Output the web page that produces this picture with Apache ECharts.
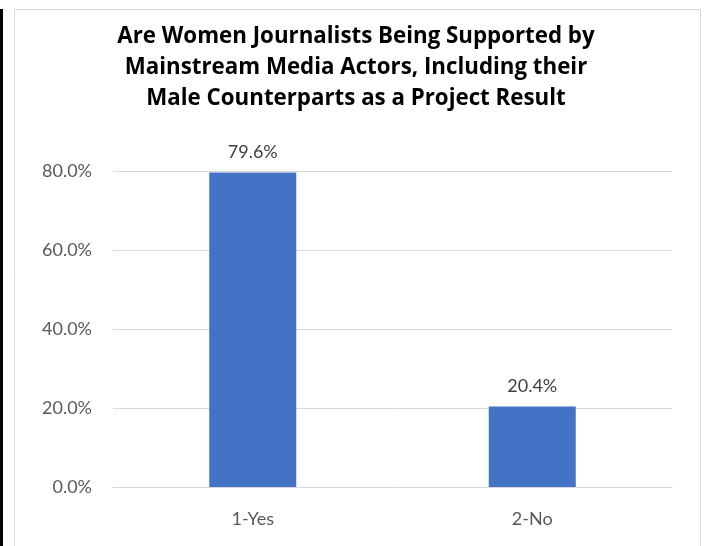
<!DOCTYPE html>
<html>
<head>
<meta charset="utf-8">
<script src="https://cdn.jsdelivr.net/npm/echarts@6/dist/echarts.min.js"></script>
<style>html,body{margin:0;padding:0;background:#fff}#c{width:712px;height:546px}</style>
</head>
<body>
<div id="c"></div>
<script>
const categories = ['1-Yes', '2-No'];
const values = [79.6, 20.4];
const titleText = 'Are Women Journalists Being Supported by\nMainstream Media Actors, Including their\nMale Counterparts as a Project Result';

const chart = echarts.init(document.getElementById('c'));
chart.setOption({
  animation: false,
  backgroundColor: '#fff',
  title: {
    text: titleText,
    left: 'center',
    top: 16,
    textStyle: { fontFamily: 'Open Sans', fontWeight: 'bold', fontSize: 22.3, lineHeight: 31, color: '#000' }
  },
  graphic: [
    { type: 'rect', shape: { x: 0, y: 9, width: 3, height: 537 }, style: { fill: '#000' }, silent: true },
    { type: 'rect', shape: { x: 14.5, y: 9.5, width: 686, height: 560 }, style: { fill: 'none', stroke: '#d9d9d9', lineWidth: 1 }, silent: true }
  ],
  grid: { left: 113, right: 40, top: 171, bottom: 59 },
  xAxis: {
    type: 'category',
    data: categories,
    axisLine: { lineStyle: { color: '#d9d9d9', width: 1 } },
    axisTick: { show: false },
    axisLabel: { color: '#595959', fontSize: 18, fontFamily: 'Lato', margin: 23 }
  },
  yAxis: {
    type: 'value',
    min: 0, max: 80, interval: 20,
    axisLine: { show: false },
    axisTick: { show: false },
    splitLine: { lineStyle: { color: '#d9d9d9', width: 1 } },
    axisLabel: { color: '#595959', fontSize: 18, fontFamily: 'Lato', margin: 21, formatter: v => v.toFixed(1) + '%' }
  },
  series: [{
    type: 'bar',
    data: values,
    barWidth: 87,
    itemStyle: { color: '#4472c4' },
    label: { show: true, position: 'top', distance: 11, color: '#404040', fontSize: 18, fontFamily: 'Lato', formatter: p => p.value.toFixed(1) + '%' }
  }]
});
</script>
</body>
</html>
